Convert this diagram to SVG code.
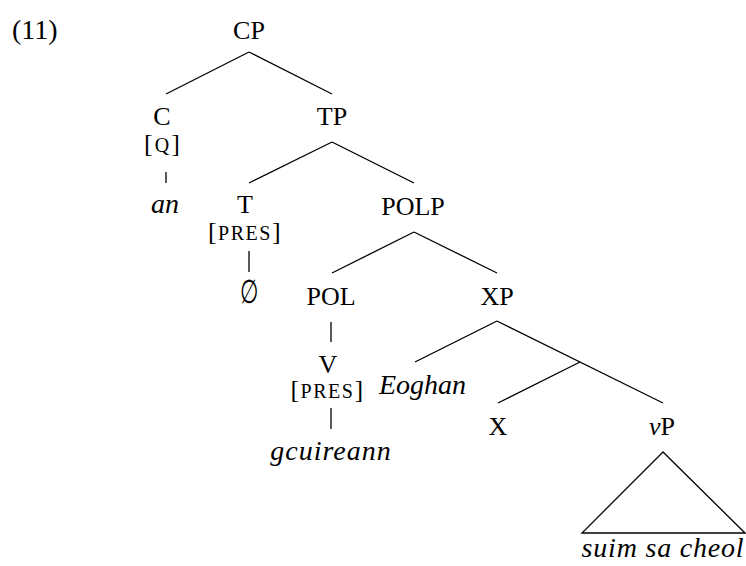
<svg xmlns="http://www.w3.org/2000/svg" width="746" height="566" viewBox="0 0 746 566">
<style>
  text { font-family: "Liberation Serif", "DejaVu Serif", serif; fill: #000; }
  .lab { font-size: 26px; text-anchor: middle; }
  .it { font-style: italic; font-size: 28px; text-anchor: middle; }
  .sc { font-size: 20px; }
  .num { font-size: 28px; }
  .edge { stroke: #000; stroke-width: 1.3; fill: none; stroke-linecap: butt; }
</style>
<rect width="746" height="566" fill="#fff"/>
<text class="num" x="12" y="39">(11)</text>
<g id="connectors">
  <line class="edge" x1="249" y1="52" x2="166" y2="94"/>
  <line class="edge" x1="249" y1="52" x2="332" y2="94"/>
  <line class="edge" x1="166" y1="172" x2="166" y2="183"/>
  <line class="edge" x1="332" y1="142" x2="249" y2="183"/>
  <line class="edge" x1="332" y1="142" x2="414" y2="183"/>
  <line class="edge" x1="249" y1="251" x2="249" y2="272"/>
  <line class="edge" x1="414" y1="232" x2="332" y2="273"/>
  <line class="edge" x1="414" y1="232" x2="497" y2="273"/>
  <line class="edge" x1="331" y1="322" x2="331" y2="342"/>
  <line class="edge" x1="331" y1="408" x2="331" y2="429"/>
  <line class="edge" x1="497" y1="321" x2="415" y2="362"/>
  <line class="edge" x1="497" y1="321" x2="663" y2="403"/>
  <line class="edge" x1="580" y1="362" x2="498" y2="403"/>
  <polygon class="edge" points="663,452 582,533 745,533"/>
</g>
<g id="CP"><text class="lab" x="249" y="39">CP</text></g>
<g id="C">
  <text class="lab" x="162" y="125">C</text>
  <text class="lab" x="163" y="152" letter-spacing="2">[<tspan class="sc">Q</tspan>]</text>
</g>
<g id="an"><text class="it" x="165" y="213">an</text></g>
<g id="TP"><text class="lab" x="332" y="125">TP</text></g>
<g id="T">
  <text class="lab" x="245" y="213">T</text>
  <text class="lab" x="245" y="240" letter-spacing="1.5">[<tspan class="sc">PRES</tspan>]</text>
</g>
<g id="empty"><text class="lab" x="249" y="301" transform="translate(249,292) scale(0.8,1.25) translate(-249,-292)">∅</text></g>
<g id="POLP"><text class="lab" x="413" y="215">POLP</text></g>
<g id="POL"><text class="lab" x="331" y="305">POL</text></g>
<g id="XP"><text class="lab" x="497" y="305">XP</text></g>
<g id="V">
  <text class="lab" x="328" y="373">V</text>
  <text class="lab" x="327.5" y="398" letter-spacing="1.5">[<tspan class="sc">PRES</tspan>]</text>
</g>
<g id="gcuireann"><text class="it" x="331" y="460" letter-spacing="1">gcuireann</text></g>
<g id="Eoghan"><text class="it" x="422.5" y="394">Eoghan</text></g>
<g id="X"><text class="lab" x="498" y="435">X</text></g>
<g id="vP"><text class="lab" x="662" y="435"><tspan font-style="italic">v</tspan>P</text></g>
<g id="suim"><text class="it" x="663" y="557" letter-spacing="0.8">suim sa cheol</text></g>
</svg>
